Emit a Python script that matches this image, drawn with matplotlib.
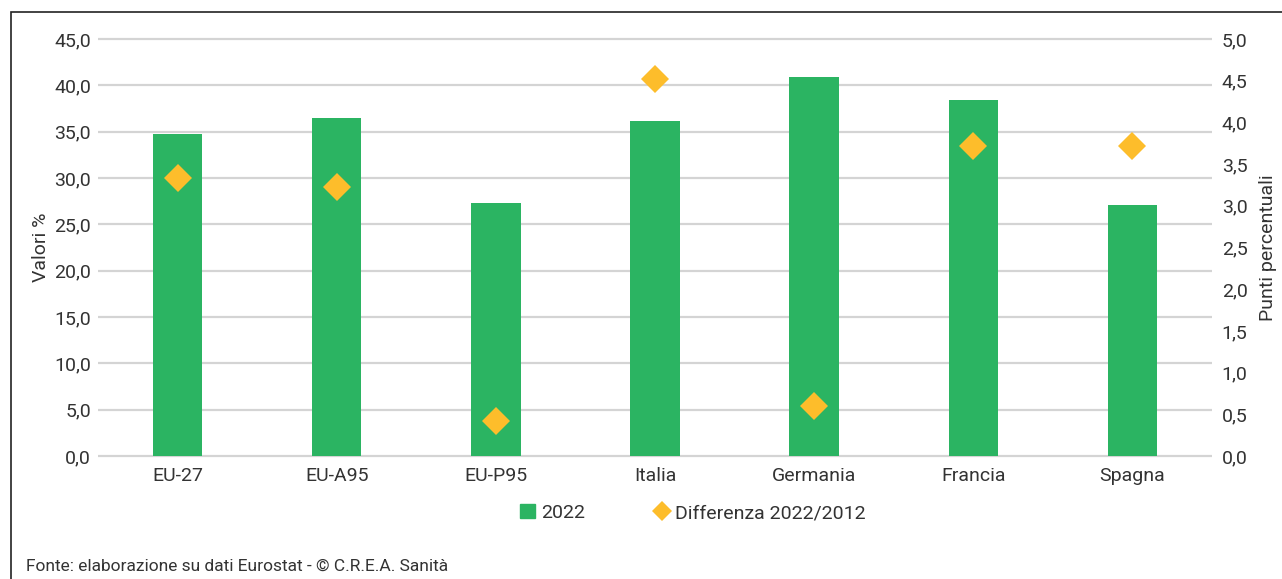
import numpy as np
import matplotlib
matplotlib.use('Agg')
import matplotlib.pyplot as plt
from matplotlib.ticker import FuncFormatter, MultipleLocator
from matplotlib.lines import Line2D
from matplotlib.patches import Rectangle

plt.rcParams['font.family'] = ['Roboto', 'DejaVu Sans']

# data
paesi = ['EU-27', 'EU-A95', 'EU-P95', 'Italia', 'Germania', 'Francia', 'Spagna']
valori_2022 = [34.8, 36.5, 27.3, 36.1, 40.9, 38.4, 27.1]
differenza = [3.33, 3.23, 0.42, 4.52, 0.60, 3.72, 3.72]

verde = '#2bb462'
giallo = '#fdbd2b'
testo = '#333333'

fig = plt.figure(figsize=(12.82, 5.79), dpi=100)
ax = fig.add_axes([98/1282, 1 - 456/579, (1212-98)/1282, (456-39)/579])
ax2 = ax.twinx()

x = np.arange(len(paesi))
ax.bar(x, valori_2022, width=0.31, color=verde, zorder=3)
ax2.plot(x, differenza, linestyle='none', marker='D', markersize=14,
         color=giallo, markeredgewidth=0, zorder=4)

ax.set_xlim(-0.5, len(paesi) - 0.5)
ax.set_ylim(0, 45)
ax2.set_ylim(0, 5)
ax.yaxis.set_major_locator(MultipleLocator(5))
ax2.yaxis.set_major_locator(MultipleLocator(0.5))
fmt = FuncFormatter(lambda v, p: f'{v:.1f}'.replace('.', ','))
ax.yaxis.set_major_formatter(fmt)
ax2.yaxis.set_major_formatter(fmt)

# griglia orizzontale
ax.hlines(np.arange(0, 46, 5), -0.5, len(paesi) - 0.5, color='#d4d4d4',
          linewidth=1.6, zorder=0, clip_on=False)
for a in (ax, ax2):
    for s in a.spines.values():
        s.set_visible(False)
    a.tick_params(length=0, labelsize=14, colors=testo)
ax.tick_params(axis='y', pad=5)
ax2.tick_params(axis='y', pad=7)
ax.tick_params(axis='x', pad=8)
ax.set_xticks(x)
ax.set_xticklabels(paesi)

ax.set_ylabel('Valori %', fontsize=14, color=testo, labelpad=3)
ax2.set_ylabel('Punti percentuali', fontsize=14, color=testo, labelpad=8)

handles = [Rectangle((0, 0), 1, 1, color=verde),
           Line2D([], [], linestyle='none', marker='D', markersize=10,
                  color=giallo, markeredgewidth=0)]
fig.legend(handles, ['2022', 'Differenza 2022/2012'], loc='center',
           bbox_to_anchor=(693/1282, 1 - 513/579), ncol=2, frameon=False,
           fontsize=14, handlelength=0.75, handleheight=0.75, handletextpad=0.3,
           columnspacing=3.6, labelcolor=testo)

fig.text(26/1282, 1 - 566/579, 'Fonte: elaborazione su dati Eurostat - \u00a9 C.R.E.A. Sanit\u00e0',
         fontsize=12.5, color=testo, va='center', ha='left')

# cornice
fig.add_artist(Rectangle((11/1282, -0.01), 1.0, 1 - 12/579 + 0.01,
                         transform=fig.transFigure, fill=False,
                         edgecolor='#222222', linewidth=1.2))

fig.savefig('out.png', dpi=100)
